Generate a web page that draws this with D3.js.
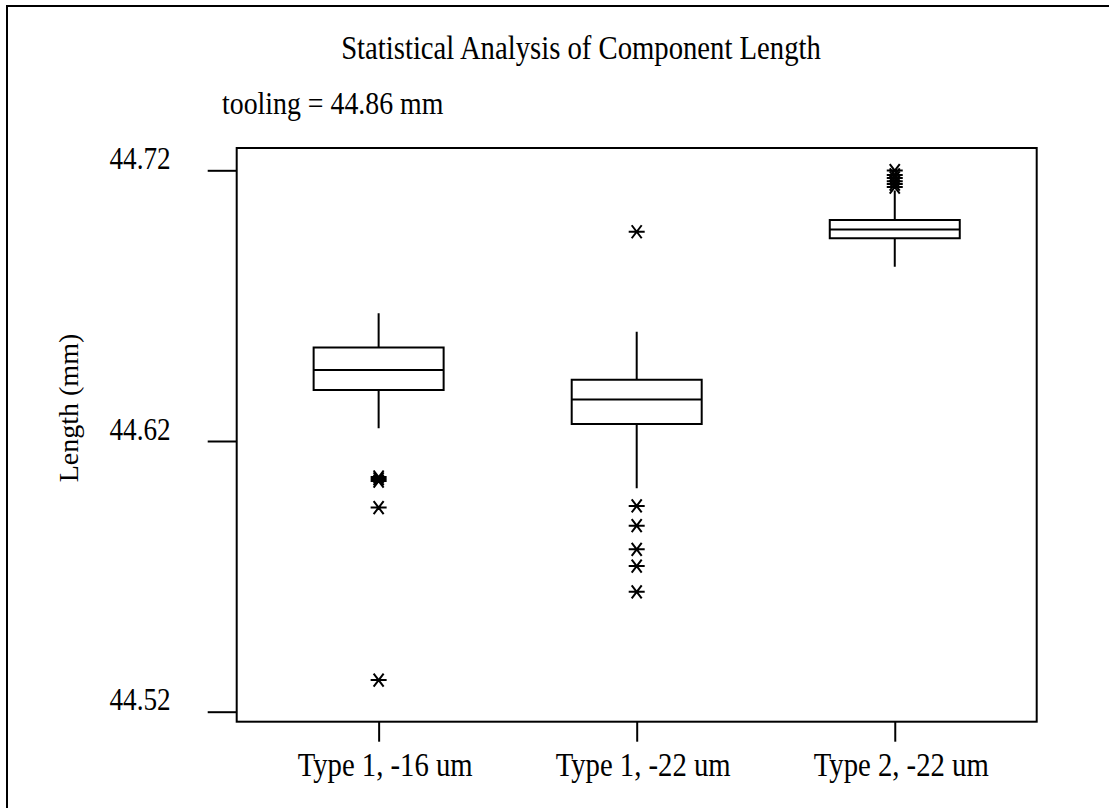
<!DOCTYPE html>
<html>
<head>
<meta charset="utf-8">
<script src="https://cdn.jsdelivr.net/npm/d3@7"></script>
<style>
  body { margin: 0; background: #fff; }
  svg text { font-family: "Liberation Serif", "Times New Roman", serif; fill: #000; }
</style>
</head>
<body>
<div id="chart"></div>
<script>
// values
const categories = ["Type 1, -16 um", "Type 1, -22 um", "Type 2, -22 um"];
const whiskerLow = [44.6247, 44.6025, 44.6844];
const q1 = [44.6388, 44.6263, 44.6949];
const median = [44.6462, 44.6353, 44.6981];
const q3 = [44.6545, 44.6426, 44.7016];
const whiskerHigh = [44.6672, 44.6604, 44.7125];
const outliers = [
  [44.6067, 44.6060, 44.6052, 44.5954, 44.5317],
  [44.6973, 44.5960, 44.5887, 44.5800, 44.5738, 44.5643],
  [44.7199, 44.7183, 44.7172, 44.7160, 44.7149, 44.7138]
];
const yTicks = [44.52, 44.62, 44.72];
const title = "Statistical Analysis of Component Length";
const note = "tooling = 44.86 mm";
const yLabel = "Length (mm)";

let width = 1109;
let height = 808;
let plot = {left: 236.7, top: 148, right: 1036.7, bottom: 721.7};
let sx = 0.87; // reference text is narrow

const svg = d3.select("#chart").append("svg")
  .attr("width", width)
  .attr("height", height);

// outer frame (runs off the right and bottom edge)
svg.append("rect")
  .attr("x", 7).attr("y", 6)
  .attr("width", width + 40).attr("height", height + 40)
  .attr("fill", "none").attr("stroke", "#000").attr("stroke-width", 2);

let x = d3.scalePoint()
  .domain(categories)
  .range([plot.left, plot.right])
  .padding(0.55);

let y = d3.scaleLinear()
  .domain([44.52, 44.72])
  .range([711.7, 170.3]);

let boxW = 130;

let bins = categories.map((c, i) => ({
  cat: c, lo: whiskerLow[i], q1: q1[i], med: median[i], q3: q3[i], hi: whiskerHigh[i], out: outliers[i]
}));

// plot frame
svg.append("rect")
  .attr("x", plot.left).attr("y", plot.top)
  .attr("width", plot.right - plot.left).attr("height", plot.bottom - plot.top)
  .attr("fill", "none").attr("stroke", "#000").attr("stroke-width", 2);

// y axis ticks
let yAxis = svg.append("g").attr("transform", `translate(${plot.left},0)`)
  .call(d3.axisLeft(y).tickValues(yTicks).tickSize(29).tickPadding(0).tickFormat(d3.format(".2f")));
yAxis.select(".domain").remove();
yAxis.selectAll(".tick line").attr("stroke", "#000").attr("stroke-width", 2);
yAxis.selectAll(".tick text")
  .attr("x", null).attr("dy", null)
  .attr("text-anchor", "end")
  .attr("font-size", 32)
  .attr("transform", "translate(-66,-2) scale(0.85,1)");

// x axis ticks
let xAxis = svg.append("g").attr("transform", `translate(0,${plot.bottom})`)
  .call(d3.axisBottom(x).tickSize(20).tickPadding(0));
xAxis.select(".domain").remove();
xAxis.selectAll(".tick line").attr("stroke", "#000").attr("stroke-width", 2);
xAxis.selectAll(".tick text")
  .attr("y", null).attr("dy", null)
  .attr("font-size", 33)
  .attr("transform", `translate(6,54) scale(${sx},1)`);

const g = svg.append("g")
  .selectAll("g")
  .data(bins)
  .enter().append("g");

g.append("path")
  .attr("stroke", "#000").attr("stroke-width", 2)
  .attr("d", d => `M${x(d.cat)},${y(d.hi)}V${y(d.q3)}M${x(d.cat)},${y(d.q1)}V${y(d.lo)}`);

g.append("path")
  .attr("fill", "#fff").attr("stroke", "#000").attr("stroke-width", 2)
  .attr("d", d => `
    M${x(d.cat) - boxW / 2},${y(d.q3)}
    H${x(d.cat) + boxW / 2}
    V${y(d.q1)}
    H${x(d.cat) - boxW / 2}
    Z`);

g.append("path")
  .attr("stroke", "#000").attr("stroke-width", 2)
  .attr("d", d => `M${x(d.cat) - boxW / 2},${y(d.med)}H${x(d.cat) + boxW / 2}`);

// asterisk outliers
let star = "M-8,0H8M-5,-6.5L5,6.5M-5,6.5L5,-6.5";
g.append("g")
  .selectAll("path")
  .data(d => d.out.map(v => ({cat: d.cat, v: v})))
  .enter().append("path")
  .attr("d", star)
  .attr("fill", "none").attr("stroke", "#000").attr("stroke-width", 2)
  .attr("transform", d => `translate(${x(d.cat)},${y(d.v)})`);

// title and note
svg.append("text")
  .attr("transform", `translate(581,59) scale(${sx},1)`)
  .attr("text-anchor", "middle")
  .attr("font-size", 33)
  .text(title);

svg.append("text")
  .attr("transform", `translate(222,114) scale(${sx},1)`)
  .attr("font-size", 32)
  .text(note);

svg.append("text")
  .attr("transform", "translate(78,408) rotate(-90)")
  .attr("text-anchor", "middle")
  .attr("font-size", 28)
  .text(yLabel);
</script>
</body>
</html>
